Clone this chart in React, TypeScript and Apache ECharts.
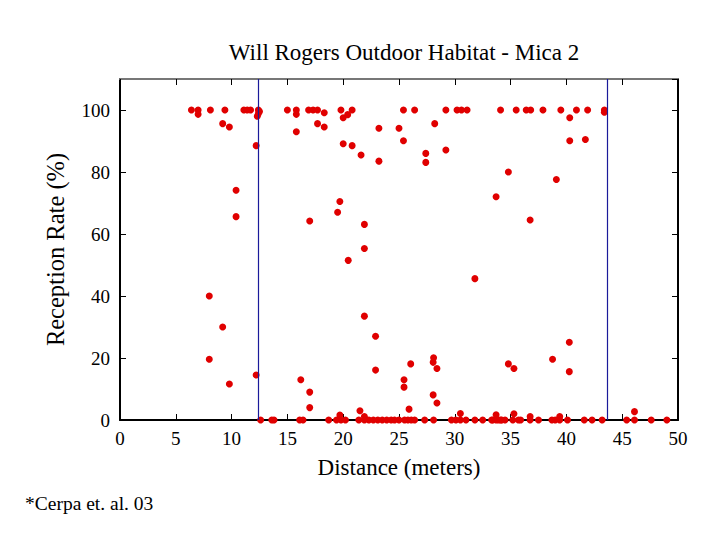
import React, { useEffect, useRef } from "react";
import * as echarts from "echarts";

const titleText = "Will Rogers Outdoor Habitat - Mica 2";
const xName = "Distance (meters)";
const yName = "Reception Rate (%)";
const footnote = "*Cerpa et. al. 03";

const xTicks = [0, 50, 5];
const yTicks = [0, 110, 20];
const boundaries = [12.4, 43.7];

const nearFull: [number, number][] = [
  [6.4, 100], [7.0, 100], [7.0, 98.6], [8.1, 100], [9.4, 100], [9.2, 95.6], [9.8, 94.5],
  [11.1, 100], [11.4, 100], [11.7, 100], [12.4, 100], [12.5, 99.5], [12.4, 98.9], [12.3, 98],
  [12.2, 88.5], [15.0, 100], [15.8, 100], [15.8, 98.6], [15.8, 93], [16.9, 100], [17.3, 100],
  [17.7, 100], [18.3, 99.1], [17.7, 95.6], [18.3, 94.5], [19.8, 100], [20.0, 97.5], [20.4, 98.5],
  [20.8, 100], [20.0, 89.1], [20.8, 88.5], [21.6, 85.5], [23.2, 94.1], [23.2, 83.5], [25.0, 94.1],
  [25.4, 100], [25.4, 90.1], [26.4, 100], [27.4, 86], [27.4, 83.1], [28.2, 95.6], [29.2, 100],
  [29.2, 87.1], [30.2, 100], [30.6, 100], [31.1, 100], [34.1, 100], [35.5, 100], [36.4, 100],
  [36.8, 100], [37.9, 100], [39.5, 100], [40.3, 97.5], [40.9, 100], [41.9, 100], [43.4, 100],
  [43.4, 99.3], [40.3, 90.1], [41.7, 90.5], [34.8, 80], [39.1, 77.6],
];

const intermediate: [number, number][] = [
  [10.4, 74.1], [10.4, 65.6], [17.0, 64.2], [19.7, 70.5], [19.5, 67], [21.9, 63.1], [21.9, 55.3],
  [20.45, 51.5], [33.7, 72], [36.75, 64.5], [31.8, 45.6], [8.0, 40], [9.2, 30], [8.0, 19.6],
  [9.8, 11.6], [12.2, 14.5], [16.2, 13], [17.0, 9], [17.0, 4], [21.9, 33.5], [22.9, 27],
  [22.9, 16.1], [26.05, 18.1], [25.45, 13], [25.45, 10.6], [25.9, 3.5], [28.1, 20.1],
  [28.06, 18.6], [28.4, 16.6], [28.06, 8.1], [28.4, 5.5], [21.5, 3], [21.9, 1.1], [19.7, 1.6],
  [30.5, 2.1], [33.7, 1.7], [34.8, 18.1], [35.3, 16.6], [38.76, 19.6], [40.26, 25.1],
  [40.26, 15.6], [35.3, 2], [36.75, 1.1], [46.1, 2.7], [39.4, 1.1],
];

const zeroDistances: number[] = [
  12.6, 13.6, 13.8, 16.1, 16.4, 18.7, 19.4, 19.8, 20.2, 21.4, 21.9, 22.3, 22.7, 23.1, 23.5,
  23.9, 24.3, 24.6, 25.0, 25.5, 25.8, 26.1, 26.4, 27.3, 28.1, 29.7, 30.1, 30.5, 31.0, 31.8,
  32.5, 33.3, 33.7, 34.1, 33.4, 33.9, 34.2, 34.5, 35.2, 35.7, 35.9, 36.75, 37.5, 38.7, 39.0,
  39.4, 40.1, 41.6, 42.3, 43.2, 45.4, 46.1, 47.6, 49.0,
];

const FONT = "Liberation Serif";

export default function App() {
  const ref = useRef<HTMLDivElement>(null);
  useEffect(() => {
    document.body.style.margin = "0";
    const chart = echarts.init(ref.current!, undefined, { renderer: "svg" });
    const points = [
      ...nearFull,
      ...intermediate,
      ...zeroDistances.map((d) => [d, 0] as [number, number]),
    ];
    const tickCommon = { inside: true, length: 6, lineStyle: { color: "#000", width: 1 } };
    chart.setOption({
      animation: false,
      backgroundColor: "#fff",
      textStyle: { fontFamily: FONT },
      title: {
        text: titleText,
        left: 399,
        top: 36,
        textAlign: "center",
        textStyle: { fontFamily: FONT, fontSize: 23, fontWeight: "normal", color: "#000" },
      },
      grid: { left: 120, right: 42, top: 79, bottom: 120 },
      xAxis: [
        {
          type: "value",
          position: "bottom",
          min: xTicks[0],
          max: xTicks[1],
          interval: xTicks[2],
          name: xName,
          nameLocation: "middle",
          nameGap: 36,
          nameTextStyle: { fontFamily: FONT, fontSize: 23, color: "#000" },
          axisLine: { onZero: false, lineStyle: { color: "#000", width: 2 } },
          axisTick: tickCommon,
          axisLabel: { fontFamily: FONT, fontSize: 19, color: "#000", margin: 9 },
          splitLine: { show: false },
        },
        {
          type: "value",
          position: "top",
          min: xTicks[0],
          max: xTicks[1],
          interval: xTicks[2],
          axisLine: { onZero: false, lineStyle: { color: "#777", width: 2 } },
          axisTick: tickCommon,
          axisLabel: { show: false },
          splitLine: { show: false },
        },
      ],
      yAxis: [
        {
          type: "value",
          position: "left",
          min: yTicks[0],
          max: yTicks[1],
          interval: yTicks[2],
          name: yName,
          nameLocation: "middle",
          nameGap: 52,
          nameTextStyle: { fontFamily: FONT, fontSize: 24.5, color: "#000" },
          axisLine: { onZero: false, lineStyle: { color: "#000", width: 2 } },
          axisTick: tickCommon,
          axisLabel: { fontFamily: FONT, fontSize: 19, color: "#000", margin: 10, showMaxLabel: false },
          splitLine: { show: false },
        },
        {
          type: "value",
          position: "right",
          min: yTicks[0],
          max: yTicks[1],
          interval: yTicks[2],
          axisLine: { onZero: false, lineStyle: { color: "#000", width: 2 } },
          axisTick: tickCommon,
          axisLabel: { show: false },
          splitLine: { show: false },
        },
      ],
      graphic: [
        {
          type: "text",
          left: 25,
          top: 493,
          style: { text: footnote, fontFamily: FONT, fontSize: 19.5, fill: "#000" },
        },
      ],
      series: [
        {
          type: "scatter",
          xAxisIndex: 0,
          yAxisIndex: 0,
          data: points,
          symbol: "circle",
          symbolSize: 7,
          clip: false,
          itemStyle: { color: "#e00000", opacity: 1 },
          markLine: {
            silent: true,
            symbol: "none",
            label: { show: false },
            lineStyle: { color: "#1a1a9a", width: 1.2, type: "solid" },
            data: boundaries.map((b) => ({ xAxis: b })),
          },
        },
      ],
    });
    return () => chart.dispose();
  }, []);
  return <div ref={ref} style={{ width: 720, height: 540 }} />;
}
